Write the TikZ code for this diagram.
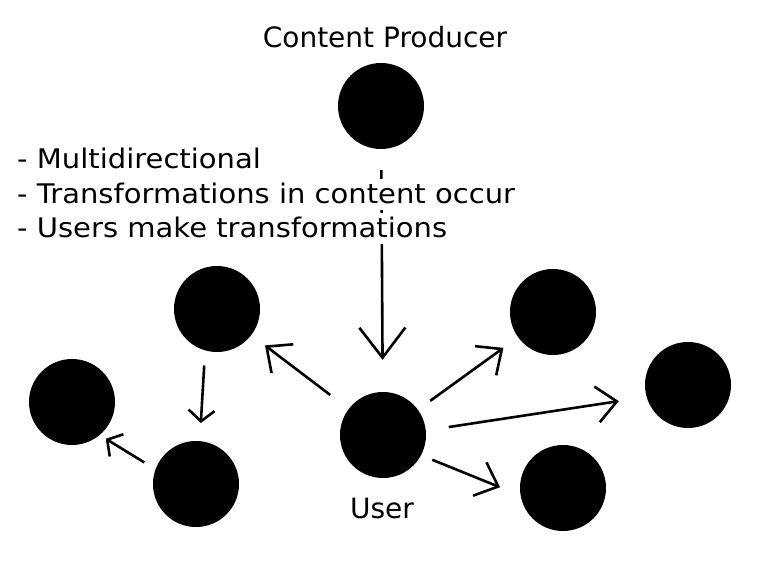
\documentclass[tikz,border=0pt]{standalone}
\usepackage{fontspec}
\setmainfont{DejaVu Sans}
\newfontfamily\widefont[FakeStretch=1.075]{DejaVu Sans}
\usetikzlibrary{arrows.meta}

\begin{document}
\begin{tikzpicture}[x=1pt,y=-1pt,
dotnode/.style={circle, fill=black, minimum size=86pt, inner sep=0pt},
labelnode/.style={font=\fontsize{28}{34}\selectfont, inner sep=0pt, anchor=base},
notenode/.style={font=\widefont\fontsize{27}{33}\selectfont, fill=white, anchor=base west, inner xsep=0pt, inner ysep=1pt, text height=23pt, text depth=6pt},
bigarrow/.style={line width=2.6pt, -{Straight Barb[length=30pt,width=46pt]}},
midarrow/.style={line width=2.6pt, -{Straight Barb[length=20pt,width=36pt]}},
smallarrow/.style={line width=2.6pt, -{Straight Barb[length=11pt,width=26pt]}},
]
\useasboundingbox (0,0) rectangle (768,576);

%Nodes
\node[dotnode] (producer)   at (381,106) {};
\node[dotnode] (user)       at (383,435) {};
\node[dotnode] (upleft)     at (217,309) {};
\node[dotnode] (left)       at (72,402)  {};
\node[dotnode] (lowleft)    at (196,484) {};
\node[dotnode] (upright)    at (553,312) {};
\node[dotnode] (right)      at (688,385) {};
\node[dotnode] (lowright)   at (563,488) {};

\node[labelnode] (producerlabel) at (385,47)  {Content Producer};
\node[labelnode] (userlabel)     at (382,518) {User};

%Lines
\draw[bigarrow, shorten <=21pt, shorten >=32pt] (producer) -- (user);
\draw[midarrow, shorten <=23pt, shorten >=17pt] (user) -- (upleft);
\draw[midarrow, shorten <=15pt, shorten >=18pt] (user) -- (upright);
\draw[midarrow, shorten <=23pt, shorten >=28pt] (user.6) -- (right.196);
\draw[midarrow, shorten <=12pt, shorten >=22pt] (user.-28) -- (lowright.190);
\draw[smallarrow, shorten <=15pt, shorten >=18pt] (upleft.254) -- (lowleft.85);
\draw[smallarrow, shorten <=13pt, shorten >=7pt] (lowleft.160) -- (left.-50);

%Notes
\node[notenode] (note1) at (17,168) {- Multidirectional};
\node[notenode] (note2) at (17,203) {- Transformations in content occur};
\node[notenode] (note3) at (17,237) {- Users make transformations};
\end{tikzpicture}
\end{document}
